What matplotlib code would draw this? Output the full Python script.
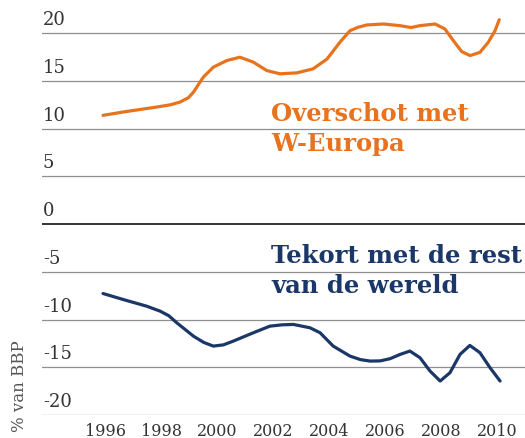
import matplotlib
matplotlib.use("Agg")
import matplotlib.pyplot as plt

# Surplus with Western Europe (% of GDP)
years_orange = [1996.0, 1996.72, 1997.92, 1998.4, 1998.75, 1999.05, 1999.23, 1999.4,
                1999.58, 1999.94, 2000.42, 2000.89, 2001.37, 2001.85, 2002.32, 2002.92,
                2003.5, 2004.0, 2004.46, 2004.82, 2005.1, 2005.42, 2006.01, 2006.6,
                2007.0, 2007.32, 2007.86, 2008.21, 2008.51, 2008.81, 2009.11, 2009.46,
                2009.76, 2010.0, 2010.15]
surplus_weurope = [11.4, 11.75, 12.27, 12.5, 12.79, 13.25, 13.83, 14.6,
                   15.4, 16.45, 17.14, 17.49, 16.97, 16.09, 15.75, 15.85,
                   16.27, 17.3, 19.06, 20.27, 20.62, 20.87, 20.97, 20.8,
                   20.6, 20.8, 20.97, 20.45, 19.23, 18.08, 17.66, 18.0,
                   19.06, 20.27, 21.42]

# Deficit with rest of world (% of GDP)
years_blue = [1996.0, 1996.72, 1997.56, 1998.04, 1998.35, 1998.63, 1999.23, 1999.6,
              1999.94, 2000.3, 2000.65, 2001.37, 2001.96, 2002.4, 2002.8, 2003.39,
              2003.75, 2004.22, 2004.82, 2005.2, 2005.54, 2005.9, 2006.25, 2006.61,
              2006.96, 2007.32, 2007.68, 2008.04, 2008.39, 2008.75, 2009.1, 2009.46,
              2009.82, 2010.18]
deficit_rest = [-7.27, -7.9, -8.6, -9.12, -9.6, -10.33, -11.74, -12.4,
                -12.78, -12.65, -12.26, -11.38, -10.69, -10.55, -10.51, -10.86,
                -11.38, -12.78, -13.83, -14.2, -14.35, -14.33, -14.1, -13.65,
                -13.3, -14.0, -15.4, -16.44, -15.57, -13.65, -12.71, -13.47,
                -15.04, -16.44]

y_ticks = [20, 15, 10, 5, 0, -5, -10, -15, -20]
x_ticks = [1996, 1998, 2000, 2002, 2004, 2006, 2008, 2010]
label_orange = "Overschot met\nW-Europa"
label_blue = "Tekort met de rest\nvan de wereld"
y_label = "% van BBP"

ORANGE = "#E8731E"
NAVY = "#1B3768"
W, H = 525, 439

fig = plt.figure(figsize=(W / 100, H / 100), dpi=100)
ax = fig.add_axes([42 / W, (H - 416) / H, 1 - 42 / W, 416 / H])
ax.set_xlim(1993.82, 2011.07)
ax.set_ylim(-20, 23.59)
ax.axis("off")

for v in y_ticks:
    if v == 0:
        ax.axhline(v, color="#333333", lw=1.4, zorder=1)
    else:
        ax.axhline(v, color="#8f8f8f", lw=0.9, zorder=1)
    ax.annotate(f"{v}", xy=(0, v), xycoords=("axes fraction", "data"),
                xytext=(1, 5), textcoords="offset pixels",
                ha="left", va="bottom", fontsize=13, family="DejaVu Serif",
                color="#333333")

ax.plot(years_orange, surplus_weurope, color=ORANGE, lw=2.3,
        solid_capstyle="round", solid_joinstyle="round", zorder=3)
ax.plot(years_blue, deficit_rest, color=NAVY, lw=2.3,
        solid_capstyle="round", solid_joinstyle="round", zorder=3)

for yr in x_ticks:
    ax.annotate(str(yr), xy=(yr, -20), xycoords="data",
                xytext=(2, -7), textcoords="offset pixels",
                ha="center", va="top", fontsize=11.5, family="DejaVu Serif",
                color="#333333", annotation_clip=False)

fig.text(271 / W, 1 - 102 / H, label_orange, ha="left", va="top",
         fontsize=17.5, fontweight="bold", family="DejaVu Serif",
         color=ORANGE, linespacing=1.3)
fig.text(271 / W, 1 - 244 / H, label_blue, ha="left", va="top",
         fontsize=17.5, fontweight="bold", family="DejaVu Serif",
         color=NAVY, linespacing=1.3)

fig.text(20 / W, 1 - 386 / H, y_label, rotation=90, ha="center", va="center",
         fontsize=12, family="DejaVu Serif", color="#555555")

fig.savefig("out.png", dpi=100)
